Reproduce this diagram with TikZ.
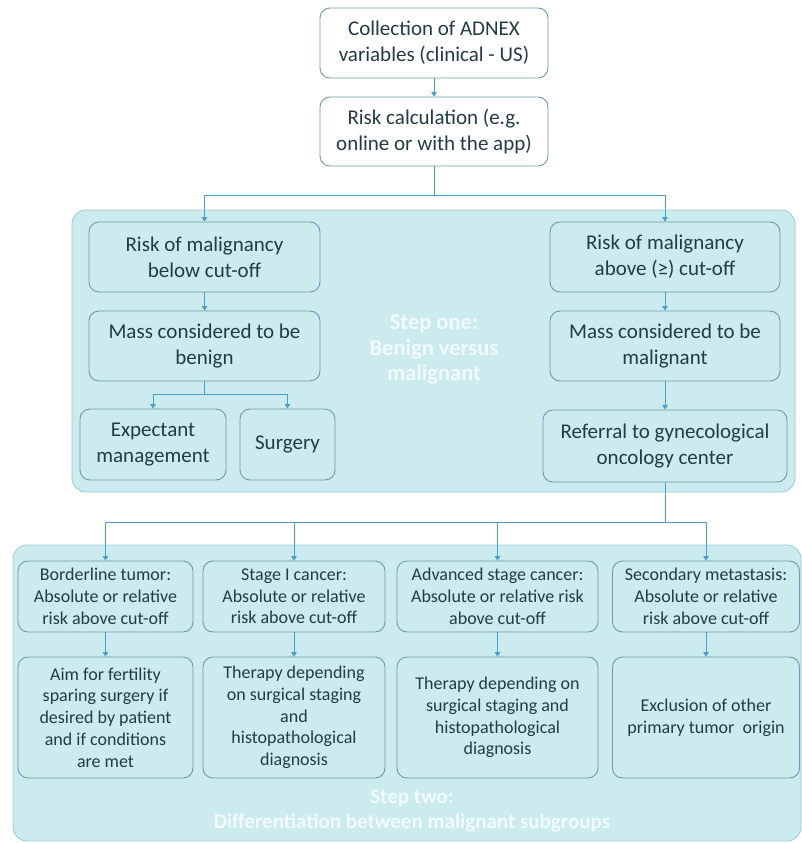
\documentclass[tikz,border=0pt]{standalone}
\usepackage{fontspec}
\setmainfont{Carlito}
\usetikzlibrary{arrows.meta}
\definecolor{panelfill}{HTML}{CBEBEF}
\definecolor{panelline}{HTML}{9CCDD6}
\definecolor{boxline}{HTML}{6F9AA5}
\definecolor{txt}{HTML}{243B45}
\definecolor{arrowblue}{HTML}{4D9BD0}
\definecolor{stepwhite}{HTML}{F2FBFC}
\begin{document}
\begin{tikzpicture}[x=1pt, y=-1pt,
    main/.style = {draw=boxline, line width=0.9pt, rounded corners=10pt, align=center, text=txt, inner sep=0pt, font=\fontsize{21}{26}\selectfont},
    small/.style = {main, font=\fontsize{18}{21.7}\selectfont},
    panel/.style = {draw=panelline, fill=panelfill, line width=0.9pt, rounded corners=14pt},
    steptext/.style = {align=center, text=stepwhite, font=\bfseries\fontsize{21}{25}\selectfont},
    arr/.style = {draw=arrowblue, line width=1pt, -{Triangle[width=5.5pt,length=4.5pt]}},
    con/.style = {draw=arrowblue, line width=1pt}]

    \useasboundingbox (0,0) rectangle (802,843);

    \draw[panel] (72,210) rectangle (795,492);
    \draw[panel] (13,545) rectangle (801,841);

    \node[main, fill=white, minimum width=228, minimum height=70] (adnex) at (434,43) {Collection of ADNEX\\variables (clinical - US)};
    \node[main, fill=white, minimum width=228, minimum height=69] (calc) at (434,131.5) {Risk calculation (e.g.\\online or with the app)};

    \node[main, minimum width=231, minimum height=70] (lowrisk) at (204.5,257) {Risk of malignancy\\below cut-off};
    \node[main, minimum width=231, minimum height=70] (benign) at (204.5,346) {Mass considered to be\\benign};
    \node[main, minimum width=146, minimum height=71] (expect) at (153,444.5) {Expectant\\management};
    \node[main, minimum width=95, minimum height=71] (surgery) at (287.5,444.5) {Surgery};

    \node[main, minimum width=230, minimum height=70] (highrisk) at (665,257) {Risk of malignancy\\above (≥) cut-off};
    \node[main, minimum width=230, minimum height=70] (malign) at (665,346) {Mass considered to be\\malignant};
    \node[main, minimum width=244, minimum height=72] (referral) at (665,446) {Referral to gynecological\\oncology center};

    \node[steptext, font=\bfseries\fontsize{22.5}{25.5}\selectfont] (stepone) at (434,350) {Step one:\\Benign versus\\malignant};

    \node[small, minimum width=175, minimum height=71] (border) at (105.5,596.5) {Borderline tumor:\\Absolute or relative\\risk above cut-off};
    \node[small, minimum width=182, minimum height=71] (stage) at (294,596.5) {Stage I cancer:\\Absolute or relative\\risk above cut-off};
    \node[small, minimum width=201, minimum height=71] (advanced) at (497.5,596.5) {Advanced stage cancer:\\Absolute or relative risk\\above cut-off};
    \node[small, minimum width=187, minimum height=71] (secondary) at (706,596.5) {Secondary metastasis:\\Absolute or relative\\risk above cut-off};

    \node[small, minimum width=175, minimum height=121] (fertility) at (105.5,717.5) {Aim for fertility\\sparing surgery if\\desired by patient\\and if conditions\\are met};
    \node[small, minimum width=182, minimum height=121] (therapy) at (294,717.5) {Therapy depending\\on surgical staging\\and\\histopathological\\diagnosis};
    \node[small, minimum width=201, minimum height=121] (therapytwo) at (497.5,717.5) {Therapy depending on\\surgical staging and\\histopathological\\diagnosis};
    \node[small, minimum width=187, minimum height=121] (exclusion) at (706,717.5) {Exclusion of other\\primary tumor\ \ origin};

    \node[steptext] (steptwo) at (412,811) {Step two:\\Differentiation between malignant subgroups};

    \coordinate (split1) at (434,195);
    \coordinate (split2) at (204.5,394);
    \coordinate (split3) at (665,522);

    \draw[arr] (adnex) -- (calc);
    \draw[con] (calc) -- (split1);
    \draw[arr] (split1) -| (lowrisk);
    \draw[arr] (split1) -| (highrisk);

    \draw[arr] (lowrisk) -- (benign);
    \draw[con] (benign) -- (split2);
    \draw[arr] (split2) -| (expect);
    \draw[arr] (split2) -| (surgery);

    \draw[arr] (highrisk) -- (malign);
    \draw[arr] (malign) -- (referral);
    \draw[con] (referral) -- (split3);
    \draw[arr] (split3) -| (border);
    \draw[arr] (split3) -| (stage);
    \draw[arr] (split3) -| (advanced);
    \draw[arr] (split3) -| (secondary);

    \draw[arr] (border) -- (fertility);
    \draw[arr] (stage) -- (therapy);
    \draw[arr] (advanced) -- (therapytwo);
    \draw[arr] (secondary) -- (exclusion);

\end{tikzpicture}
\end{document}
